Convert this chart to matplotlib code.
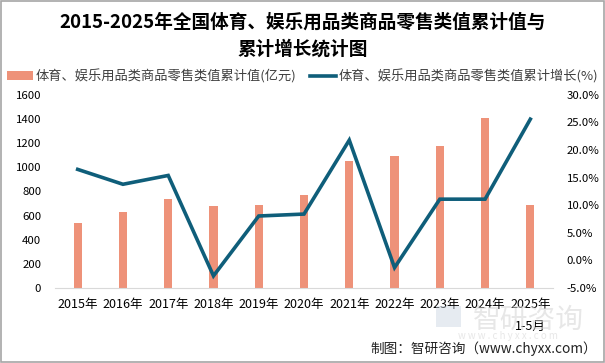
import matplotlib
matplotlib.use("Agg")
import matplotlib.pyplot as plt
from matplotlib.patches import Rectangle
from matplotlib.lines import Line2D
from matplotlib.patches import Patch
import numpy as np

plt.rcParams['font.family'] = ['Noto Sans CJK SC', 'DejaVu Sans']

categories = ["2015年", "2016年", "2017年", "2018年", "2019年", "2020年",
              "2021年", "2022年", "2023年", "2024年", "2025年\n1-5月"]
retail_value = [541, 633, 741, 683, 691, 774, 1056, 1097, 1180, 1412, 691]
growth_pct = [16.5, 13.8, 15.4, -2.8, 8.05, 8.4, 21.8, -1.3, 11.1, 11.1, 25.6]

left_ticks = [0, 200, 400, 600, 800, 1000, 1200, 1400, 1600]
right_ticks = [-5, 0, 5, 10, 15, 20, 25, 30]

bar_color = "#EE9279"
line_color = "#0F5E7A"

fig = plt.figure(figsize=(6.05, 3.63), dpi=100)
ax = fig.add_axes([0.091, 0.2066, 0.823, 0.532])
ax2 = ax.twinx()

x = np.arange(len(categories))
ax.bar(x, retail_value, width=0.18, color=bar_color, zorder=2)
ax2.plot(x, growth_pct, color=line_color, linewidth=2.6, zorder=3,
         solid_joinstyle='miter')

ax.set_xlim(-0.5, len(categories) - 0.5)
ax.set_ylim(0, 1600)
ax.set_yticks(left_ticks)
ax.set_yticklabels([str(v) for v in left_ticks])
ax2.set_ylim(-5, 30)
ax2.set_yticks(right_ticks)
ax2.set_yticklabels([f"{v:.1f}%" for v in right_ticks])
ax.set_xticks(x)
ax.set_xticklabels(categories, linespacing=1.9, va='top')

for a in (ax, ax2):
    for s in a.spines.values():
        s.set_visible(False)
    a.tick_params(length=0, labelsize=8.2, colors='#000000')
ax.tick_params(axis='x', labelsize=9, pad=7)
ax.spines['bottom'].set_visible(True)
ax.spines['bottom'].set_color('#D9D9D9')
ax.tick_params(axis='y', pad=10)
ax2.tick_params(axis='y', pad=10)

# Title
fig.text(0.5, 0.938, "2015-2025年全国体育、娱乐用品类商品零售类值累计值与",
         ha='center', va='center', fontsize=13.4, fontweight='bold')
fig.text(0.5, 0.866, "累计增长统计图", ha='center', va='center',
         fontsize=13.4, fontweight='bold')

# Legend
handles = [Patch(facecolor=bar_color, edgecolor='none'),
           Line2D([0], [0], color=line_color, linewidth=2.6)]
labels = ["体育、娱乐用品类商品零售类值累计值(亿元)", "体育、娱乐用品类商品零售类值累计增长(%)"]
leg = fig.legend(handles, labels, loc='center', bbox_to_anchor=(0.5, 0.79),
                 ncol=2, frameon=False, fontsize=9.5, handlelength=2.0,
                 handleheight=0.6, columnspacing=1.0, handletextpad=0.2)
for t in leg.get_texts():
    t.set_color('#404040')

# Watermark
fig.text(0.873, 0.12, "智研咨询", ha='center', va='center', fontsize=20,
         color='#D4D4D4', alpha=0.55, zorder=0)
fig.text(0.84, 0.074, "w w w . c h y x x . c o m", ha='center', va='center',
         fontsize=7, color='#D4D4D4', alpha=0.55, zorder=0)
fig.patches.append(Rectangle((0.72, 0.1), 0.042, 0.058, transform=fig.transFigure,
                             facecolor='#C8D4E0', edgecolor='none', alpha=0.45))

# Footer
fig.text(0.987, 0.04, "制图：智研咨询（www.chyxx.com）", ha='right', va='center',
         fontsize=9.8, color='#222222')

# Border
fig.patches.append(Rectangle((0.001, 0.002), 0.997, 0.995, transform=fig.transFigure,
                             facecolor='none', edgecolor='#A6A6A6', linewidth=1.2))

fig.savefig("out.png", dpi=100)
